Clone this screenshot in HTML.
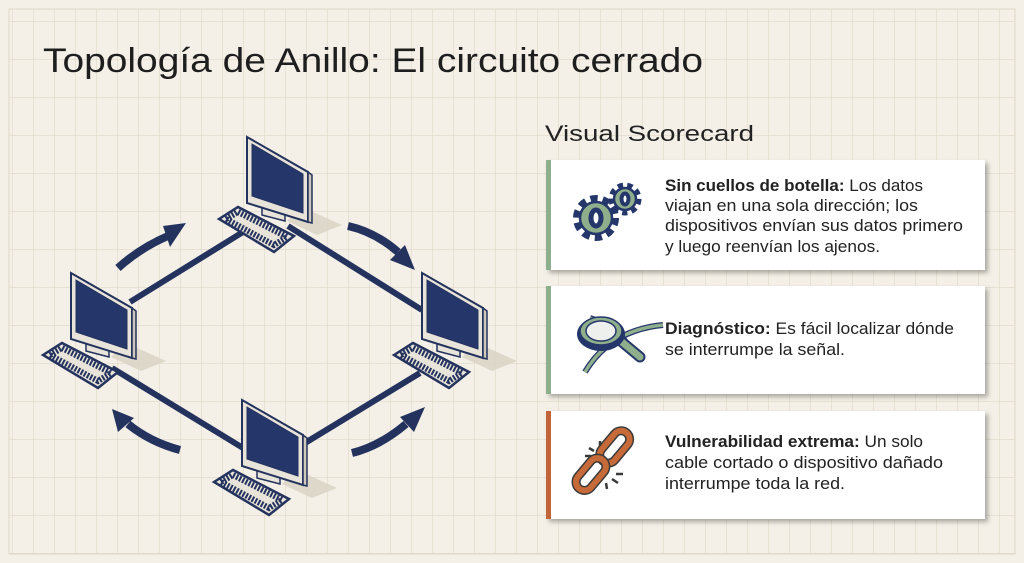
<!DOCTYPE html>
<html><head><meta charset="utf-8"><style>
html,body{margin:0;padding:0;width:1024px;height:563px;overflow:hidden;background:#f4f0e7}
svg{display:block}
text{font-family:"Liberation Sans",sans-serif}
</style></head><body>
<svg width="1024" height="563" viewBox="0 0 1024 563" xmlns="http://www.w3.org/2000/svg">
<defs>
<pattern id="g" x="12" y="21" width="21" height="38" patternUnits="userSpaceOnUse">
<path d="M0 0V38M0 0H21" stroke="#e0d8c7" stroke-width="1.2" fill="none"/>
</pattern>
<filter id="sh" x="-5%" y="-10%" width="115%" height="130%"><feDropShadow dx="3" dy="3" stdDeviation="2.5" flood-color="#000" flood-opacity="0.3"/></filter>
<g id="pc">
<polygon points="55,70 95,88 70,98 40,84" fill="#d8d2c4" opacity="0.8"/>
<polygon points="-28,82 -9,70 47,99 27,115" fill="#e9e4da" stroke="#24335e" stroke-width="2.5"/>
<polygon points="-21,82 -9,75 40,100 27,108" fill="none" stroke="#24335e" stroke-width="6" stroke-dasharray="2 1.5"/>
<polygon points="15,66 38,72 38,84 15,78" fill="#e9e4da" stroke="#24335e" stroke-width="1.5"/>
<polygon points="0,0 61,35 61,85 0,66" fill="#e9e4da" stroke="#24335e" stroke-width="2"/>
<polygon points="5,7 56,37 56,76 5,59" fill="#24366a" stroke="#24335e" stroke-width="1"/>
<polygon points="61,35 65,38 65,86 61,85" fill="#cfc9bb" stroke="#24335e" stroke-width="1.5"/>
</g>
</defs>
<rect width="1024" height="563" fill="#f4f0e7"/>
<rect x="9" y="9" width="1006" height="545" fill="url(#g)" stroke="#e0d8c8"/>

<text x="43" y="72" font-size="34" fill="#1e1e1e" textLength="660" lengthAdjust="spacingAndGlyphs">Topología de Anillo: El circuito cerrado</text>
<text x="545" y="141" font-size="22" fill="#222" textLength="209" lengthAdjust="spacingAndGlyphs">Visual Scorecard</text>

<g stroke="#24335e" stroke-width="6">
<line x1="243" y1="232" x2="130" y2="302"/>
<line x1="288" y1="226" x2="422" y2="310"/>
<line x1="112" y1="368" x2="243" y2="448"/>
<line x1="305" y1="443" x2="420" y2="373"/>
</g>
<g fill="none" stroke="#24335e" stroke-width="8">
<path d="M118 268 Q140 248 168 236"/>
<path d="M348 226 Q375 232 398 252"/>
<path d="M180 450 Q150 442 128 424"/>
<path d="M352 453 Q380 446 406 424"/>
</g>
<g fill="#24335e">
<polygon points="186,223 163,226 170,247"/>
<polygon points="415,270 405,245 390,260"/>
<polygon points="112,409 118,432 134,418"/>
<polygon points="425,407 400,417 414,432"/>
</g>
<use href="#pc" x="247" y="137"/>
<use href="#pc" x="71" y="273"/>
<use href="#pc" x="422" y="273"/>
<use href="#pc" x="242" y="400"/>

<g filter="url(#sh)">
<rect x="546" y="160" width="439" height="110" fill="#fff"/>
<rect x="546" y="286" width="439" height="108" fill="#fff"/>
<rect x="546" y="411" width="439" height="108" fill="#fff"/>
</g>
<rect x="546" y="160" width="5" height="110" fill="#8daf8c"/>
<rect x="546" y="286" width="5" height="108" fill="#8daf8c"/>
<rect x="546" y="411" width="5" height="108" fill="#c2643a"/>

<!-- gears -->
<g stroke="#24366a" fill="#8faf8c">
<circle cx="596" cy="218" r="19" stroke-width="8" stroke-dasharray="7 5" fill="none"/>
<circle cx="596" cy="218" r="16" stroke-width="2.5"/>
<ellipse cx="596" cy="218" rx="5" ry="8" fill="#fff" stroke-width="5"/>
<circle cx="625" cy="199" r="13" stroke-width="7" stroke-dasharray="5 4" fill="none"/>
<circle cx="625" cy="199" r="11" stroke-width="2.5"/>
<ellipse cx="625" cy="199" rx="3.5" ry="5.5" fill="#fff" stroke-width="4"/>
</g>
<!-- magnifier -->
<g>
<path d="M585 372 Q610 330 663 325" fill="none" stroke="#24366a" stroke-width="6"/>
<path d="M585 372 Q610 330 663 325" fill="none" stroke="#8faf8c" stroke-width="3.5"/>
<path d="M590 318 Q620 328 627 345" fill="none" stroke="#24366a" stroke-width="6"/>
<path d="M590 318 Q620 328 627 345" fill="none" stroke="#8faf8c" stroke-width="3.5"/>
<line x1="622" y1="342" x2="640" y2="357" stroke="#24366a" stroke-width="11" stroke-linecap="round"/>
<line x1="622" y1="342" x2="640" y2="357" stroke="#8faf8c" stroke-width="7" stroke-linecap="round"/>
<ellipse cx="601" cy="334" rx="24" ry="17" fill="#24366a"/>
<ellipse cx="601" cy="331" rx="21" ry="14" fill="#8faf8c" stroke="#24366a" stroke-width="1.5"/>
<ellipse cx="601" cy="331" rx="15" ry="10" fill="#eef0ee" stroke="#24366a" stroke-width="1.5"/>
</g>
<!-- broken chain -->
<g fill="none">
<rect x="606" y="428" width="17" height="37" rx="8.5" transform="rotate(40 614 447)" stroke="#3a3a3a" stroke-width="9"/>
<rect x="606" y="428" width="17" height="37" rx="8.5" transform="rotate(40 614 447)" stroke="#c66a3a" stroke-width="6"/>
<rect x="582" y="456" width="17" height="37" rx="8.5" transform="rotate(40 591 475)" stroke="#3a3a3a" stroke-width="9"/>
<rect x="582" y="456" width="17" height="37" rx="8.5" transform="rotate(40 591 475)" stroke="#c66a3a" stroke-width="6"/>
<g stroke="#3a3a3a" stroke-width="2.5">
<line x1="585" y1="456" x2="591" y2="456"/><line x1="589" y1="448" x2="594" y2="451"/><line x1="600" y1="441" x2="600" y2="446"/>
<line x1="616" y1="474" x2="623" y2="474"/><line x1="612" y1="479" x2="618" y2="483"/><line x1="606" y1="483" x2="607" y2="489"/>
</g>
</g>

<g font-size="16.5" fill="#222" lengthAdjust="spacingAndGlyphs">
<text x="665" y="191" textLength="258" lengthAdjust="spacingAndGlyphs"><tspan font-weight="bold">Sin cuellos de botella:</tspan> Los datos</text>
<text x="665" y="211" textLength="253" lengthAdjust="spacingAndGlyphs">viajan en una sola dirección; los</text>
<text x="665" y="231" textLength="298" lengthAdjust="spacingAndGlyphs">dispositivos envían sus datos primero</text>
<text x="665" y="252" textLength="215" lengthAdjust="spacingAndGlyphs">y luego reenvían los ajenos.</text>
<text x="665" y="334" textLength="289" lengthAdjust="spacingAndGlyphs"><tspan font-weight="bold">Diagnóstico:</tspan> Es fácil localizar dónde</text>
<text x="665" y="355" textLength="180" lengthAdjust="spacingAndGlyphs">se interrumpe la señal.</text>
<text x="665" y="447" textLength="258" lengthAdjust="spacingAndGlyphs"><tspan font-weight="bold">Vulnerabilidad extrema:</tspan> Un solo</text>
<text x="665" y="468" textLength="278" lengthAdjust="spacingAndGlyphs">cable cortado o dispositivo dañado</text>
<text x="665" y="489" textLength="180" lengthAdjust="spacingAndGlyphs">interrumpe toda la red.</text>
</g>
</svg>
</body></html>
